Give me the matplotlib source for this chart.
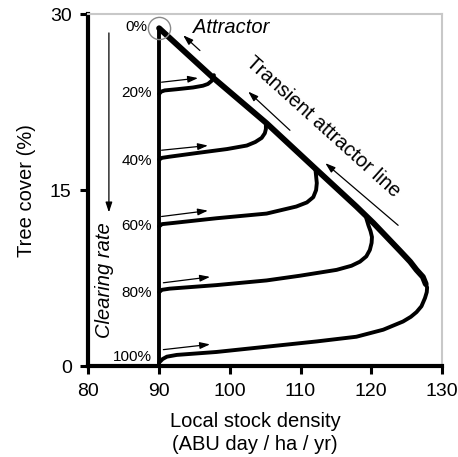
import matplotlib
matplotlib.use("Agg")
import matplotlib.pyplot as plt

plt.rcParams['font.family'] = ['Liberation Sans', 'DejaVu Sans']

# ---- data ----
xticks = [80, 90, 100, 110, 120, 130]
yticks = [0, 15, 30]

attractor = (90.0, 28.8)

clearing_labels = ['0%', '20%', '40%', '60%', '80%', '100%']
clearing_label_y = [28.9, 23.3, 17.5, 11.9, 6.2, 0.8]

# transient attractor line (from lower end up to attractor)
diag_x = [127.7, 127.3, 126.4, 125.5, 124.1, 122.2, 120.3, 117.9, 111.8, 105.2, 97.6, 90.0]
diag_y = [7.0, 7.6, 8.2, 8.9, 9.8, 11.0, 12.2, 13.6, 17.0, 20.7, 24.6, 28.8]

c20_x = [90.0, 90.3, 90.8, 92.5, 94.8, 96.2, 96.9, 97.4, 97.65, 97.75]
c20_y = [23.2, 23.4, 23.5, 23.6, 23.75, 23.9, 24.05, 24.3, 24.55, 24.8]

c40_x = [90.0, 90.4, 91.5, 95.8, 99.6, 102.4, 103.6, 104.5, 104.95, 105.1, 105.1]
c40_y = [17.6, 17.75, 17.85, 18.2, 18.5, 18.8, 19.1, 19.45, 19.85, 20.2, 20.6]

c60_x = [90.0, 90.4, 92.0, 98.1, 105.2, 109.4, 110.9, 111.8, 112.2, 112.3, 112.2, 112.1]
c60_y = [11.9, 12.1, 12.2, 12.6, 13.0, 13.6, 13.95, 14.4, 15.0, 15.6, 16.2, 16.8]

c80_x = [90.0, 90.4, 91.5, 98.1, 105.2, 109.9, 115.1, 117.2, 118.4, 119.3, 119.8, 120.05, 120.1, 119.9, 119.6, 119.3]
c80_y = [6.3, 6.5, 6.6, 6.9, 7.3, 7.7, 8.2, 8.55, 8.9, 9.35, 9.9, 10.5, 11.0, 11.5, 12.0, 12.6]

c100_x = [90.0, 90.5, 91.1, 92.5, 98.1, 105.2, 112.3, 117.9, 121.7, 124.5, 125.6, 126.4, 127.1, 127.6, 127.85, 127.9, 127.7]
c100_y = [0.3, 0.6, 0.8, 0.95, 1.2, 1.65, 2.1, 2.5, 3.1, 3.8, 4.2, 4.6, 5.1, 5.8, 6.3, 6.7, 7.0]

curves_x = [c20_x, c40_x, c60_x, c80_x, c100_x]
curves_y = [c20_y, c40_y, c60_y, c80_y, c100_y]

# small arrows (tail x, tail y, head x, head y)
right_arrows = [
    (90.35, 24.2, 95.5, 24.55),
    (90.35, 18.4, 96.9, 18.8),
    (90.35, 12.75, 96.9, 13.25),
    (90.6, 7.1, 97.2, 7.6),
    (90.6, 1.4, 97.2, 1.85),
]
diag_arrows = [
    (95.77, 26.9, 93.4, 28.2),
    (108.5, 20.1, 102.6, 23.4),
    (123.8, 12.0, 113.5, 17.3),
]
clearing_arrow = (82.9, 28.4, 82.9, 13.1)

# ---- figure ----
fig = plt.figure(figsize=(4.58, 4.57), dpi=100)
ax = fig.add_axes([0.193, 0.199, 0.772, 0.770])
ax.set_xlim(80, 130)
ax.set_ylim(0, 30)
ax.set_xticks(xticks)
ax.set_yticks(yticks)
ax.tick_params(direction='out', length=6, width=2.2, labelsize=14, pad=6)

for s in ['left', 'bottom']:
    ax.spines[s].set_linewidth(3)
    ax.spines[s].set_color('black')
for s in ['top', 'right']:
    ax.spines[s].set_linewidth(1.5)
    ax.spines[s].set_color('#c8c8c8')

# vertical line at x=90
ax.plot([attractor[0], attractor[0]], [0, attractor[1]], color='black', lw=2.8,
        solid_capstyle='butt', clip_on=False)

for cx, cy in zip(curves_x, curves_y):
    ax.plot(cx, cy, color='black', lw=2.8, solid_joinstyle='round',
            solid_capstyle='round', clip_on=False)

ax.plot(diag_x, diag_y, color='black', lw=4.2, solid_joinstyle='round',
        solid_capstyle='round')

# attractor circle
ax.plot([attractor[0]], [attractor[1]], marker='o', ms=16, mfc='none',
        mec='#8a8a8a', mew=1.0)

arrowkw = dict(arrowstyle='-|>,head_length=0.6,head_width=0.2', lw=0.9,
               color='black', shrinkA=0, shrinkB=0, mutation_scale=10)
for tx, ty, hx, hy in right_arrows + diag_arrows + [clearing_arrow]:
    ax.annotate('', xy=(hx, hy), xytext=(tx, ty), arrowprops=arrowkw)

for lab, ly in zip(clearing_labels, clearing_label_y):
    xx = 88.3 if lab == '0%' else 89.0
    ax.text(xx, ly, lab, ha='right', va='center', fontsize=11)

ax.text(94.8, 28.9, 'Attractor', ha='left', va='center', fontsize=14.5,
        style='italic')
ax.text(113.2, 20.4, 'Transient attractor line', ha='center', va='center',
        fontsize=14.5, rotation=-42, rotation_mode='anchor')
ax.text(82.3, 7.3, 'Clearing rate', ha='center', va='center', fontsize=14.5,
        style='italic', rotation=90)

ax.set_ylabel('Tree cover (%)', fontsize=14.5, labelpad=10)
ax.set_xlabel('Local stock density\n(ABU day / ha / yr)', fontsize=14.5,
              linespacing=1.3)
ax.xaxis.set_label_coords(0.471, -0.13)

fig.savefig('out.png', dpi=100)
